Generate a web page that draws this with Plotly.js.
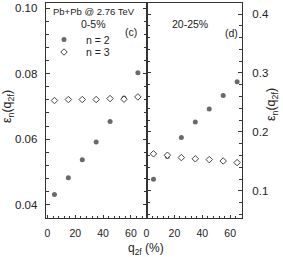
<!DOCTYPE html>
<html>
<head>
<meta charset="utf-8">
<script src="https://cdn.plot.ly/plotly-3.0.1.min.js"></script>
<style>html,body{margin:0;padding:0;background:#fff;}#chart{width:283px;height:257px;}</style>
</head>
<body>
<div id="chart"></div>
<script>
// q2f (%) bin centres
const q2f = [5, 15, 25, 35, 45, 55, 65];
// panel (c): 0-5% centrality
const c_eps2 = [0.0431, 0.0482, 0.0537, 0.0591, 0.0654, 0.0726, 0.0803];
const c_eps3 = [0.0718, 0.0721, 0.0721, 0.0721, 0.0724, 0.0722, 0.0729];
// panel (d): 20-25% centrality
const d_eps2 = [0.1196, 0.1585, 0.1905, 0.2168, 0.2391, 0.2619, 0.2850];
const d_eps3 = [0.1629, 0.1604, 0.1565, 0.1544, 0.1531, 0.1507, 0.1480];
// tick labels
const xTicks = [0, 20, 40, 60];
const yTicksL = [0.04, 0.06, 0.08, 0.10];
const yTicksR = [0.1, 0.2, 0.3, 0.4];

const FONT = 'Liberation Sans, Arial, sans-serif';
const INK = '#222';
const TOP = 3, BOT = 218, W = 283;
const px = v => v / W;
const py = v => (BOT - v) / (BOT - TOP);

const fillStyle = {symbol: 'circle', size: 5, color: '#6a6a6a', line: {width: 0}};
const openStyle = {symbol: 'diamond', size: 5, color: '#fff', line: {width: 1, color: '#444'}};

const traces = [
  {x: q2f, y: c_eps2, xaxis: 'x', yaxis: 'y', mode: 'markers', name: 'n = 2', marker: fillStyle, legend: 'legend', showlegend: true},
  {x: q2f, y: c_eps3, xaxis: 'x', yaxis: 'y', mode: 'markers', name: 'n = 3', marker: openStyle, legend: 'legend2', showlegend: true},
  {x: q2f, y: d_eps2, xaxis: 'x2', yaxis: 'y2', mode: 'markers', name: 'n = 2', marker: fillStyle, showlegend: false},
  {x: q2f, y: d_eps3, xaxis: 'x2', yaxis: 'y2', mode: 'markers', name: 'n = 3', marker: openStyle, showlegend: false}
];

const xCommon = {
  tickmode: 'array', tickvals: xTicks, ticktext: xTicks.map(String),
  ticks: 'inside', ticklen: 3, tickcolor: '#333', tickwidth: 1,
  minor: {dtick: 4, tick0: 0, ticks: 'inside', ticklen: 2, tickcolor: '#333', showgrid: false},
  showline: true, linecolor: '#333', linewidth: 1, mirror: true,
  showgrid: false, zeroline: false,
  tickfont: {family: FONT, size: 10.5, color: INK},
  ticklabelstandoff: 5
};

const ann = (text, x, y, size, extra) => Object.assign({
  text: text, xref: 'paper', yref: 'paper', x: px(x), y: py(y),
  xanchor: 'center', yanchor: 'middle', showarrow: false,
  font: {family: FONT, size: size, color: INK}
}, extra || {});

const layout = {
  width: 283, height: 257,
  margin: {l: 0, r: 0, t: TOP, b: 257 - BOT, pad: 0},
  paper_bgcolor: '#fff', plot_bgcolor: '#fff',
  font: {family: FONT, color: INK},
  xaxis: Object.assign({}, xCommon, {domain: [px(45.7), px(146.5)], range: [-1.3, 71.2], anchor: 'y'}),
  xaxis2: Object.assign({}, xCommon, {domain: [px(146.5), px(242)], range: [0, 68.5], anchor: 'y2'}),
  yaxis: {
    domain: [0, 1], anchor: 'x', side: 'left', range: [0.0359, 0.1016],
    tickmode: 'array', tickvals: yTicksL, ticktext: yTicksL.map(v => v.toFixed(2)),
    ticks: 'inside', ticklen: 4, tickcolor: '#333',
    minor: {dtick: 0.004, tick0: 0, ticks: 'inside', ticklen: 3, tickcolor: '#333', showgrid: false},
    showline: true, linecolor: '#333', linewidth: 1, mirror: 'ticks',
    showgrid: false, zeroline: false,
    tickfont: {family: FONT, size: 11.5, color: INK}, ticklabelstandoff: 5
  },
  yaxis2: {
    domain: [0, 1], anchor: 'x2', side: 'right', range: [0.054, 0.4187],
    tickmode: 'array', tickvals: yTicksR, ticktext: yTicksR.map(v => v.toFixed(1)),
    ticks: 'inside', ticklen: 4, tickcolor: '#333',
    minor: {dtick: 0.02, tick0: 0, ticks: 'inside', ticklen: 3, tickcolor: '#333', showgrid: false},
    showline: true, linecolor: '#333', linewidth: 1, mirror: 'ticks',
    showgrid: false, zeroline: false,
    tickfont: {family: FONT, size: 11.5, color: INK}, ticklabelstandoff: 7
  },
  legend: {x: px(42), y: py(39.5), xanchor: 'left', yanchor: 'middle', bgcolor: 'rgba(0,0,0,0)', borderwidth: 0,
           font: {family: FONT, size: 10.5, color: INK}, itemwidth: 34},
  legend2: {x: px(42), y: py(52), xanchor: 'left', yanchor: 'middle', bgcolor: 'rgba(0,0,0,0)', borderwidth: 0,
           font: {family: FONT, size: 10.5, color: INK}, itemwidth: 34},
  annotations: [
    ann('Pb+Pb @ 2.76 TeV', 94, 11.5, 9.5),
    ann('0-5%', 93.5, 24.5, 10.5),
    ann('(c)', 131, 32, 10.5),
    ann('20-25%', 190, 24.5, 10.5),
    ann('(d)', 231, 33.5, 10.5),
    ann('q<sub>2f</sub> (%)', 146, 249, 12),
    ann('ε<sub>n</sub>(q<sub>2f</sub>)', 8, 107, 12.5, {textangle: -90}),
    ann('ε<sub>n</sub>(q<sub>2f</sub>)', 272, 105, 12.5, {textangle: -90})
  ]
};

Plotly.newPlot('chart', traces, layout, {staticPlot: true, displayModeBar: false});
</script>
</body>
</html>
